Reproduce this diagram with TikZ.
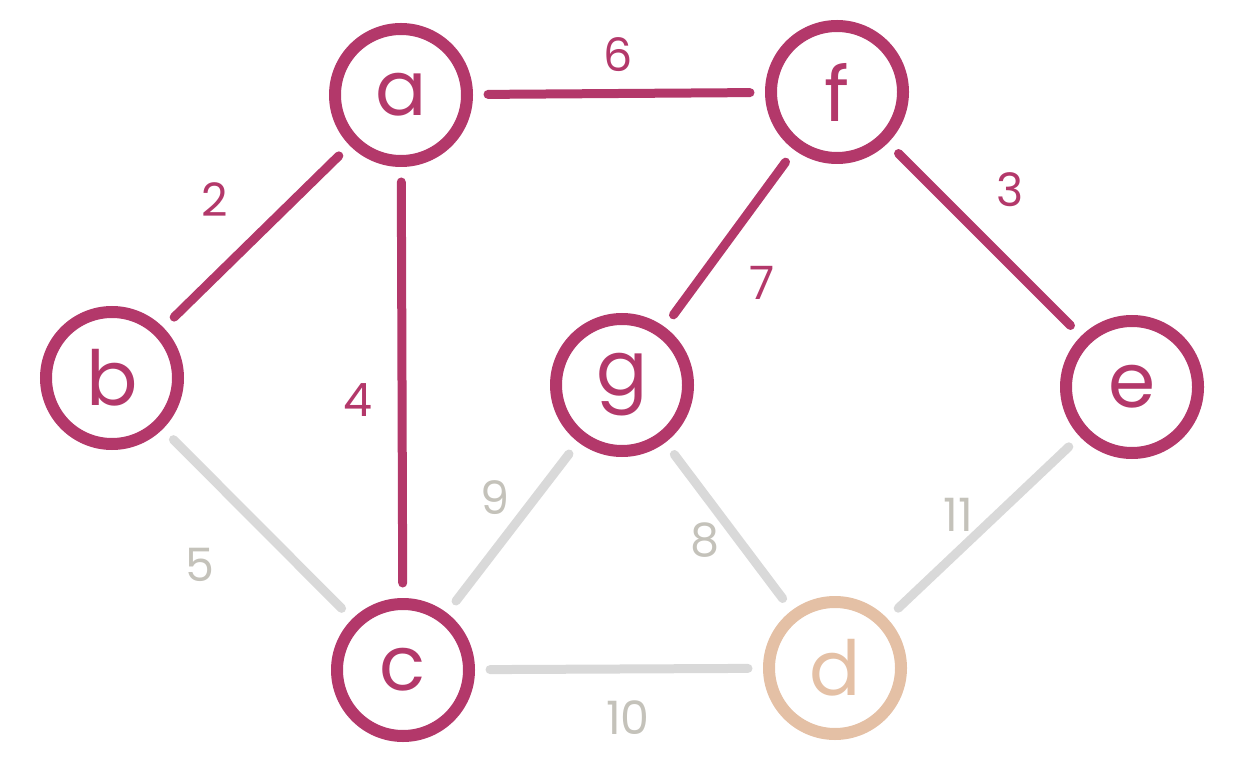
\documentclass[tikz,border=0pt]{standalone}
\usepackage{fontspec}
\setmainfont{Poppins}
\definecolor{mag}{HTML}{B3386A}
\definecolor{peach}{HTML}{E4C0A5}
\definecolor{edgegray}{HTML}{D9D9D9}
\definecolor{labgray}{HTML}{C4C2BA}
\begin{document}
\begin{tikzpicture}[x=1pt,y=-1pt,
  vert/.style={circle,draw=mag,line width=12pt,minimum size=132pt,inner sep=0pt,text=mag,font=\fontsize{76}{76}\selectfont},
  vertd/.style={vert,draw=peach,text=peach},
  tree/.style={draw=mag,line width=9pt,line cap=round,shorten <=15pt,shorten >=15pt},
  rest/.style={draw=edgegray,line width=9pt,line cap=round,shorten <=15pt,shorten >=15pt},
  tlab/.style={text=mag,font=\fontsize{46}{46}\selectfont},
  rlab/.style={text=labgray,font=\fontsize{46}{46}\selectfont}]
\useasboundingbox (0,0) rectangle (1252,783);
\node[vert] (a) at (401,95) {a};
\node[vert] (f) at (837,92) {f};
\node[vert] (b) at (112,378) {b};
\node[vert] (g) at (622,385) {g};
\node[vert] (e) at (1132,387) {e};
\node[vert] (c) at (403,670) {c};
\node[vertd] (d) at (835,668) {d};
\draw[tree] (a) -- (f);
\draw[tree] (a) -- (b);
\draw[tree] (a) -- (c);
\draw[tree] (f) -- (g);
\draw[tree] (f) -- (e);
\draw[rest] (b) -- (c);
\draw[rest] (c) -- (g);
\draw[rest] (g) -- (d);
\draw[rest] (c) -- (d);
\draw[rest] (d) -- (e);
\node[tlab] (l6) at (618,55) {6};
\node[tlab] (l2) at (215,200) {2};
\node[tlab] (l4) at (358,400) {4};
\node[tlab] (l3) at (1010,190) {3};
\node[tlab] (l7) at (762,283) {7};
\node[rlab] (l9) at (495,498) {9};
\node[rlab] (l8) at (705,540) {8};
\node[rlab] (l11) at (958,515) {11};
\node[rlab] (l5) at (200,565) {5};
\node[rlab] (l10) at (628,718) {10};
\end{tikzpicture}
\end{document}
